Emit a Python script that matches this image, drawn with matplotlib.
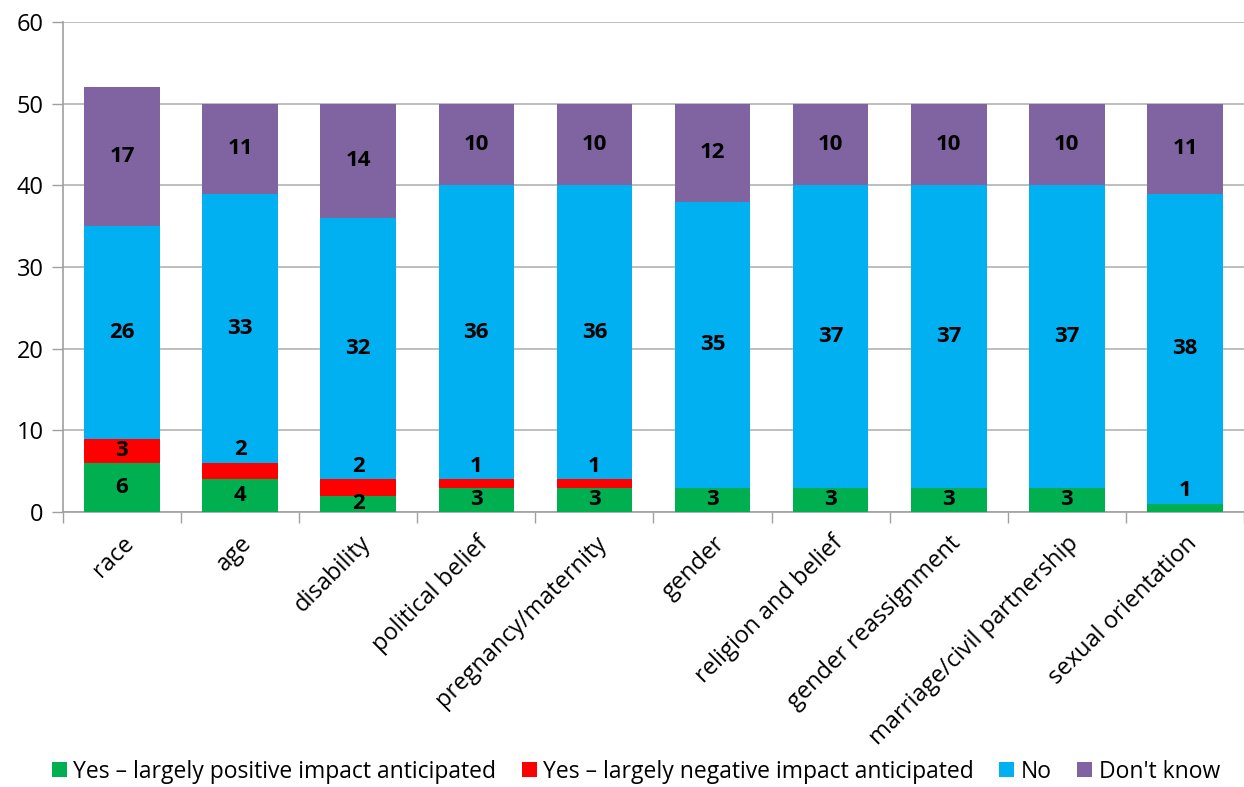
import numpy as np
import matplotlib
matplotlib.use('Agg')
import matplotlib.pyplot as plt

categories = ['race', 'age', 'disability', 'political belief', 'pregnancy/maternity',
              'gender', 'religion and belief', 'gender reassignment',
              'marriage/civil partnership', 'sexual orientation']
positive = [6, 4, 2, 3, 3, 3, 3, 3, 3, 1]
negative = [3, 2, 2, 1, 1, 0, 0, 0, 0, 0]
no_impact = [26, 33, 32, 36, 36, 35, 37, 37, 37, 38]
dont_know = [17, 11, 14, 10, 10, 12, 10, 10, 10, 11]

series_labels = ['Yes \u2013 largely positive impact anticipated',
                 'Yes \u2013 largely negative impact anticipated',
                 'No', "Don't know"]
colors = ['#00B050', '#FF0000', '#00B0F0', '#8064A2']

plt.rcParams['font.family'] = ['Open Sans', 'DejaVu Sans']

fig = plt.figure(figsize=(12.44, 7.87), dpi=100)
ax = fig.add_axes([0.0506, 0.3494, 0.9494, 0.6226])

x = np.arange(len(categories))
width = 0.64
bottom = np.zeros(len(categories))
for si, (vals, col, lab) in enumerate(zip([positive, negative, no_impact, dont_know],
                                          colors, series_labels)):
    vals = np.array(vals, dtype=float)
    ax.bar(x, vals, width, bottom=bottom, color=col, label=lab, zorder=3)
    for xi, v, b in zip(x, vals, bottom):
        if v == 0:
            continue
        # small segments get their label lifted just above the segment
        small = v < 1.5 or (si == 1 and v < 2.5)
        y = b + v + 1.6 if small else b + v / 2
        ax.text(xi, y, f'{int(v)}', ha='center', va='center', fontsize=16,
                fontweight='bold', color='black', zorder=4)
    bottom += vals

ax.set_xlim(-0.5, len(categories) - 0.5)
ax.set_ylim(0, 60)
ax.set_yticks(np.arange(0, 61, 10))
ax.yaxis.grid(True, color='#B3B3B3', linewidth=1.2, zorder=0)
ax.tick_params(axis='y', labelsize=17, length=8, color='#A0A0A0', width=1, pad=6)

ax.set_xticks(x)
ax.set_xticklabels(categories, rotation=45, ha='right', rotation_mode='anchor', fontsize=17)
ax.tick_params(axis='x', which='major', length=0, pad=14)
ax.set_xticks(np.arange(-0.5, len(categories), 1.0), minor=True)
ax.tick_params(axis='x', which='minor', length=8, color='#A0A0A0', width=1)

for side in ['top', 'right']:
    ax.spines[side].set_visible(False)
for side in ['left', 'bottom']:
    ax.spines[side].set_color('#A0A0A0')
    ax.spines[side].set_linewidth(1.2)

fig.legend(loc='lower left', bbox_to_anchor=(0.025, -0.022), ncol=4, frameon=False,
           fontsize=16.5, handlelength=0.65, handleheight=0.65, handletextpad=0.3,
           columnspacing=1.1)

fig.savefig('out.png', dpi=100)
